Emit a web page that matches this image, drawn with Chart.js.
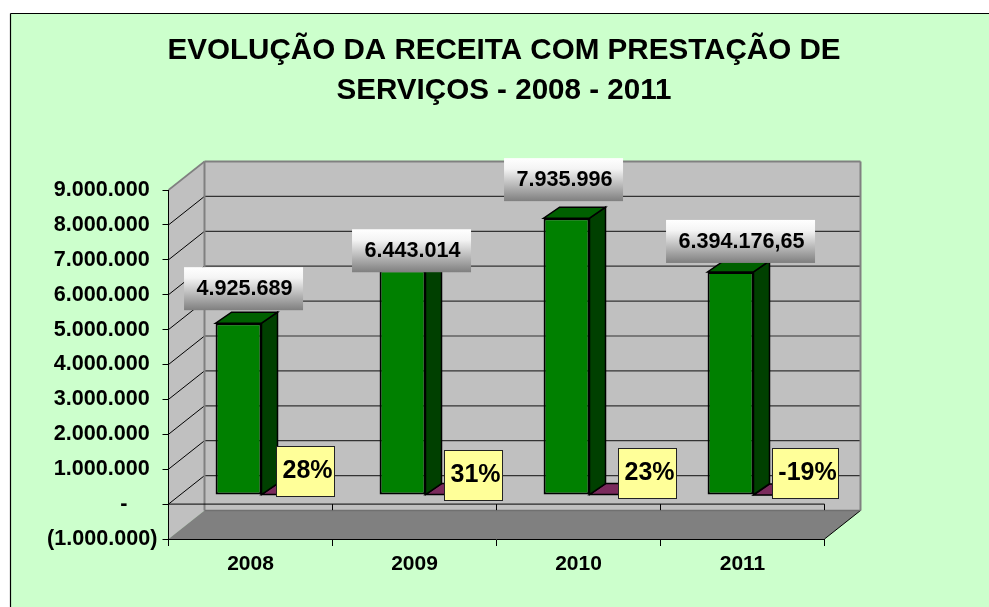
<!DOCTYPE html>
<html>
<head>
<meta charset="utf-8">
<style>
  html, body { margin: 0; padding: 0; background: #fff; }
  canvas { display: block; }
</style>
<script src="https://cdn.jsdelivr.net/npm/chart.js"></script>
</head>
<body>
<canvas id="receitaChart" width="989" height="607"></canvas>
<script>
const titleLines = ['EVOLUÇÃO DA RECEITA COM PRESTAÇÃO DE', 'SERVIÇOS - 2008 - 2011'];
const categories = ['2008', '2009', '2010', '2011'];
const receita = [4925689, 6443014, 7935996, 6394176.65];
const variacao = [0.28, 0.31, 0.23, -0.19];
const receitaLabels = ['4.925.689', '6.443.014', '7.935.996', '6.394.176,65'];
const variacaoLabels = ['28%', '31%', '23%', '-19%'];
const tickValues = [-1000000, 0, 1000000, 2000000, 3000000, 4000000, 5000000, 6000000, 7000000, 8000000, 9000000];
const tickLabels = ['(1.000.000)', '-\u00a0\u00a0\u00a0\u00a0\u00a0', '1.000.000\u00a0\u200a', '2.000.000\u00a0\u200a', '3.000.000\u00a0\u200a',
  '4.000.000\u00a0\u200a', '5.000.000\u00a0\u200a', '6.000.000\u00a0\u200a', '7.000.000\u00a0\u200a', '8.000.000\u00a0\u200a', '9.000.000\u00a0\u200a'];

// 3D look, in pixels
const wall = { dx: 36, dy: -28.5 };
const barShift = { dx: 11, dy: -9 };
const barDepth = { dx: 16, dy: -11 };
const FONT = '"Liberation Sans", Arial, sans-serif';

// label boxes were moved by hand in the original: x offset from bar centre, gap above bar top
const receitaBox = [
  { w: 119, dx: 5, gap: 13 }, { w: 119, dx: 9, gap: -2 }, { w: 119, dx: -3, gap: 17 }, { w: 149, dx: 10, gap: 9 }
];
const variacaoBox = [
  { w: 58, left: 276.5, top: 446.5 }, { w: 58, left: 444.5, top: 450.5 },
  { w: 58, left: 618.5, top: 448.5 }, { w: 66, left: 772.5, top: 448.5 }
];

function poly(ctx, pts, fill, stroke, lw) {
  ctx.beginPath();
  pts.forEach((p, i) => i ? ctx.lineTo(p[0], p[1]) : ctx.moveTo(p[0], p[1]));
  ctx.closePath();
  if (fill) { ctx.fillStyle = fill; ctx.fill(); }
  if (stroke) { ctx.strokeStyle = stroke; ctx.lineWidth = lw || 1; ctx.stroke(); }
}

function line(ctx, x1, y1, x2, y2, color, lw) {
  ctx.beginPath();
  ctx.moveTo(x1, y1);
  ctx.lineTo(x2, y2);
  ctx.strokeStyle = color;
  ctx.lineWidth = lw;
  ctx.stroke();
}

const scenePlugin = {
  id: 'scene',
  beforeDraw(chart) {
    const ctx = chart.ctx, y = chart.scales.y, a = chart.chartArea;
    const bx = a.left + wall.dx, brx = a.right + wall.dx;
    const top = y.getPixelForValue(9000000), low = y.getPixelForValue(-1000000), zero = y.getPixelForValue(0);
    ctx.save();
    // panel
    ctx.fillStyle = '#ffffff';
    ctx.fillRect(0, 0, chart.width, chart.height);
    ctx.fillStyle = '#ccffcc';
    ctx.fillRect(10.5, 13.5, chart.width, chart.height);
    line(ctx, 10.5, 13.5, chart.width, 13.5, '#000', 1.2);
    line(ctx, 10.5, 13.5, 10.5, chart.height, '#000', 1.2);
    // walls
    poly(ctx, [[bx, top + wall.dy], [brx, top + wall.dy], [brx, low + wall.dy], [bx, low + wall.dy]], '#c0c0c0');
    poly(ctx, [[a.left, top], [bx, top + wall.dy], [bx, low + wall.dy], [a.left, low]], '#c0c0c0');
    // grid on back and side wall
    tickValues.forEach(v => {
      if (v === -1000000 || v === 9000000) return;
      const py = y.getPixelForValue(v);
      line(ctx, bx, py + wall.dy, brx, py + wall.dy, '#333333', 1.2);
      line(ctx, a.left, py, bx, py + wall.dy, '#000', 1);
    });
    // floor
    poly(ctx, [[a.left, low], [a.right, low], [brx, low + wall.dy], [bx, low + wall.dy]], '#808080');
    line(ctx, a.right, low, brx, low + wall.dy, '#000', 1);
    // wall edges
    line(ctx, a.left, top, bx, top + wall.dy, '#808080', 1.6);
    line(ctx, bx, top + wall.dy, brx, top + wall.dy, '#808080', 2);
    line(ctx, bx, top + wall.dy, bx, low + wall.dy, '#808080', 2);
    line(ctx, brx, top + wall.dy, brx, low + wall.dy, '#808080', 2);
    line(ctx, bx, low + wall.dy, brx, low + wall.dy, '#707070', 1.5);
    // zero axis with its ticks
    line(ctx, a.left, zero, a.right, zero, '#000', 1);
    for (let i = 1; i <= categories.length; i++) {
      const tx = a.left + i * (a.right - a.left) / categories.length;
      line(ctx, tx, zero, tx, zero + 6, '#000', 1);
    }
    ctx.restore();
  },
  beforeDatasetDraw(chart, args) {
    const ctx = chart.ctx, ds = chart.data.datasets[args.index];
    ctx.save();
    ctx.translate(barShift.dx, barShift.dy);
    args.meta.data.forEach(el => {
      const p = el.getProps(['x', 'y', 'base', 'width'], true);
      const l = p.x - p.width / 2, r = p.x + p.width / 2;
      const t = Math.min(p.y, p.base), b = Math.max(p.y, p.base);
      poly(ctx, [[r, t], [r + barDepth.dx, t + barDepth.dy], [r + barDepth.dx, b + barDepth.dy], [r, b]], ds.sideColor, '#000', 1.5);
      poly(ctx, [[l, t], [r, t], [r + barDepth.dx, t + barDepth.dy], [l + barDepth.dx, t + barDepth.dy]], ds.topColor, '#000', 1.5);
    });
  },
  afterDatasetDraw(chart) {
    chart.ctx.restore();
  },
  afterDraw(chart) {
    const ctx = chart.ctx;
    ctx.save();
    // title
    ctx.fillStyle = '#000';
    ctx.textAlign = 'center';
    ctx.textBaseline = 'middle';
    ctx.font = 'bold 29.6px ' + FONT;
    titleLines.forEach((t, i) => ctx.fillText(t, 504, 51 + i * 40));
    // value boxes
    const bars = chart.getDatasetMeta(0).data;
    receitaLabels.forEach((txt, i) => {
      const cfg = receitaBox[i];
      const cx = bars[i].x + barShift.dx + cfg.dx;
      const bottom = bars[i].y + barShift.dy - cfg.gap;
      const g = ctx.createLinearGradient(0, bottom - 43, 0, bottom);
      g.addColorStop(0, '#ffffff');
      g.addColorStop(0.25, '#f4f4f4');
      g.addColorStop(1, '#7f7f7f');
      ctx.fillStyle = g;
      ctx.fillRect(cx - cfg.w / 2, bottom - 43, cfg.w, 43);
      ctx.fillStyle = '#000';
      ctx.font = 'bold 21.6px ' + FONT;
      ctx.fillText(txt, cx + 1, bottom - 21);
    });
    // percent boxes
    variacaoLabels.forEach((txt, i) => {
      const cfg = variacaoBox[i];
      ctx.fillStyle = '#ffff99';
      ctx.fillRect(cfg.left, cfg.top, cfg.w, 50);
      ctx.strokeStyle = '#222';
      ctx.lineWidth = 1;
      ctx.strokeRect(cfg.left, cfg.top, cfg.w, 50);
      ctx.fillStyle = '#000';
      ctx.font = 'bold 25px ' + FONT;
      ctx.fillText(txt, cfg.left + cfg.w / 2 + 2, cfg.top + 25);
    });
    ctx.restore();
  }
};

new Chart(document.getElementById('receitaChart').getContext('2d'), {
  type: 'bar',
  data: {
    labels: categories,
    datasets: [
      { label: 'Receita', data: receita, backgroundColor: '#008000', borderColor: '#000', borderWidth: 2,
        borderSkipped: false, sideColor: '#004000', topColor: '#006000', clip: false },
      { label: 'Variação', data: variacao, backgroundColor: '#993366', borderColor: '#000', borderWidth: 2,
        borderSkipped: false, sideColor: '#4d1a33', topColor: '#7a2a5c', clip: false }
    ]
  },
  plugins: [scenePlugin],
  options: {
    responsive: false,
    animation: false,
    categoryPercentage: 0.56,
    barPercentage: 1,
    layout: { padding: { top: 190, right: 164.5, left: 0, bottom: 0 } },
    plugins: { legend: { display: false }, title: { display: false }, tooltip: { enabled: false } },
    scales: {
      x: {
        offset: true,
        grid: { offset: true, drawOnChartArea: false, drawTicks: true, tickLength: 7, color: '#000' },
        border: { display: true, color: '#000', width: 1 },
        ticks: { color: '#000', font: { family: FONT, size: 21, weight: 'bold' }, padding: 6, maxRotation: 0 },
        afterFit(s) { s.height = 68; }
      },
      y: {
        min: -1000000,
        max: 9000000,
        grid: { drawOnChartArea: false, drawTicks: true, tickLength: 6, color: '#000' },
        border: { display: true, color: '#000', width: 1 },
        ticks: {
          stepSize: 1000000,
          color: '#000',
          padding: 5,
          font: { family: FONT, size: 21.6, weight: 'bold' },
          callback: v => tickLabels[tickValues.indexOf(v)]
        },
        afterFit(s) { s.width = 168.5; }
      }
    }
  }
});
</script>
</body>
</html>
